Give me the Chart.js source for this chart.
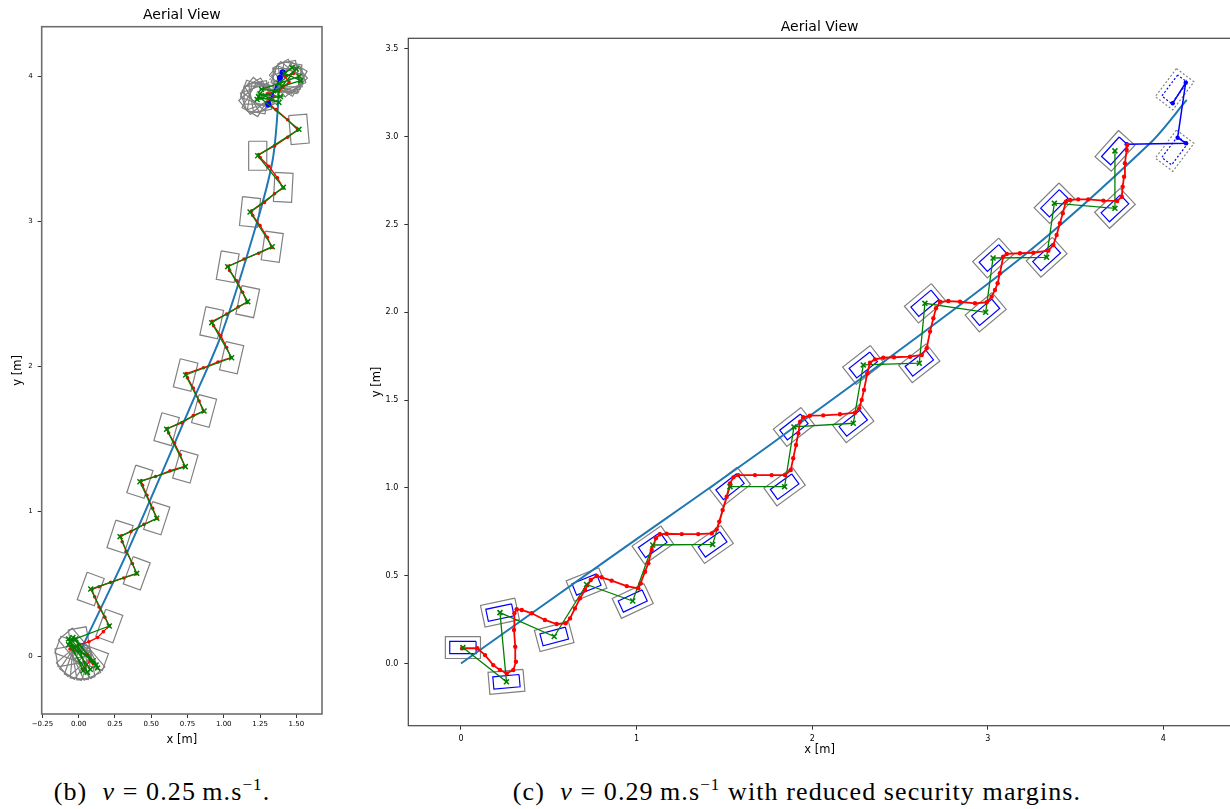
<!DOCTYPE html>
<html>
<head>
<meta charset="utf-8">
<script src="https://cdn.jsdelivr.net/npm/chart.js@4.4.1/dist/chart.umd.min.js"></script>
<style>
  html, body { margin: 0; padding: 0; background: #fff; width: 1230px; height: 809px; overflow: hidden; }
  #wrap-b { position: absolute; left: 0; top: 0; }
  #wrap-c { position: absolute; left: 360px; top: 0; }
  .cap { position: absolute; font-family: 'Liberation Serif', serif; font-size: 26px; letter-spacing: 1.1px; line-height: 1; color: #000; white-space: nowrap; transform: translateX(-50%); }
  .cap sup { font-size: 17px; vertical-align: 10px; line-height: 0; }
</style>
</head>
<body>
<div id="wrap-b"><canvas id="chart-b" width="340" height="760"></canvas></div>
<div id="wrap-c"><canvas id="chart-c" width="880" height="770"></canvas></div>
<div class="cap" style="left:162px; top:779px;">(b)&nbsp; <i>v</i> = 0.25&thinsp;m.s<sup>−1</sup>.</div>
<div class="cap" style="left:797px; top:779px;">(c)&nbsp; <i>v</i> = 0.29&thinsp;m.s<sup>−1</sup> with reduced security margins.</div>

<script>
/* ─── (b) v = 0.25 m/s ─── */

// reference path (blue)
const bRefX = [0.021, 0.331, 0.790, 0.988, 1.227, 1.337, 1.376, 1.371];
const bRefY = [0.057, 0.710, 1.768, 2.230, 2.986, 3.423, 3.837, 3.940];

// waypoints (green x) and robot heading in degrees
const bWpX = [0.211, 0.083, 0.400, 0.285, 0.538, 0.422, 0.735, 0.606, 0.864, 0.737, 1.054, 0.917, 1.165, 1.027, 1.334, 1.181, 1.410, 1.234, 1.518];
const bWpY = [0.209, 0.464, 0.572, 0.825, 0.952, 1.204, 1.308, 1.566, 1.692, 1.940, 2.059, 2.301, 2.446, 2.687, 2.825, 3.064, 3.234, 3.452, 3.634];
const bWpHeading = [70, 70, 70, 72, 72, 72, 74, 74, 75, 76, 77, 78, 78, 80, 82, 84, 87, 90, 95];

// turning on the spot at start and end
const bStartFan = [[0.03, -0.10], [-0.07, 0.12], [0.08, -0.09], [-0.06, 0.10], [0.12, -0.06], [-0.04, 0.13],
  [0.10, -0.03], [-0.07, 0.08], [0.06, -0.11], [-0.02, 0.12], [0.13, -0.08], [-0.05, 0.11]];
const bEndFan = [[1.24, 3.86], [1.38, 3.82], [1.25, 3.88], [1.39, 3.86], [1.23, 3.84], [1.37, 3.90], [1.26, 3.91],
  [1.52, 4.00], [1.38, 3.95], [1.50, 4.05], [1.40, 3.93], [1.53, 3.97], [1.42, 4.02], [1.47, 4.06]];

// box poses while turning: [x, y, heading]
const bStartBoxes = [[0.007, 0.094, 100], [-0.028, 0.077, 130], [-0.050, 0.046, 160], [-0.054, 0.007, 10],
  [-0.037, -0.028, 40], [-0.023, -0.041, 55], [-0.006, -0.051, 70], [0.013, -0.055, 85], [0.033, -0.054, 100],
  [0.052, -0.048, 115], [0.068, -0.037, 130], [0.090, -0.006, 160]];
const bEndBoxes = [[1.24, 3.87, 0], [1.23, 3.86, 20], [1.22, 3.85, 40], [1.23, 3.84, 60], [1.24, 3.85, 80],
  [1.25, 3.86, 100], [1.25, 3.87, 120], [1.24, 3.88, 140], [1.23, 3.88, 160],
  [1.44, 3.99, 0], [1.45, 3.98, 20], [1.46, 3.97, 40], [1.47, 3.98, 60], [1.46, 3.99, 80],
  [1.45, 4.00, 100], [1.44, 4.00, 120], [1.43, 3.99, 140], [1.44, 3.98, 160]];
const bGhostBoxes = [[1.36, 3.92, 65]];

// executed trajectory (red)
const bRedPath = [
  [0.03, -0.09], [0.08, -0.03], [0.10, -0.05], [0.06, 0.01], [-0.06, 0.05], [0.00, 0.08], [0.07, 0.10], [0.13, 0.13], [0.17, 0.17], [0.21, 0.21],
  [0.18, 0.27], [0.14, 0.34], [0.11, 0.41], [0.09, 0.46], [0.14, 0.48], [0.22, 0.51], [0.31, 0.54], [0.40, 0.57],
  [0.37, 0.64], [0.33, 0.72], [0.30, 0.79], [0.29, 0.83], [0.36, 0.86], [0.45, 0.91], [0.54, 0.95],
  [0.51, 1.02], [0.47, 1.11], [0.44, 1.18], [0.43, 1.21], [0.53, 1.24], [0.63, 1.28], [0.73, 1.31],
  [0.70, 1.39], [0.66, 1.47], [0.62, 1.54], [0.61, 1.57], [0.71, 1.61], [0.79, 1.66], [0.86, 1.69],
  [0.83, 1.76], [0.79, 1.85], [0.75, 1.92], [0.74, 1.95], [0.86, 1.99], [0.96, 2.03], [1.05, 2.06],
  [1.02, 2.13], [0.98, 2.21], [0.93, 2.28], [0.92, 2.31], [1.02, 2.36], [1.10, 2.41], [1.16, 2.44],
  [1.13, 2.51], [1.09, 2.59], [1.04, 2.66], [1.03, 2.69], [1.14, 2.74], [1.24, 2.78], [1.33, 2.82],
  [1.30, 2.89], [1.25, 2.97], [1.20, 3.04], [1.19, 3.07], [1.28, 3.13], [1.35, 3.19], [1.41, 3.23],
  [1.37, 3.30], [1.31, 3.38], [1.25, 3.44], [1.24, 3.46], [1.35, 3.52], [1.44, 3.58], [1.51, 3.63],
  [1.44, 3.70], [1.36, 3.77], [1.30, 3.82], [1.34, 3.86], [1.30, 3.88], [1.38, 3.90], [1.45, 3.96], [1.42, 4.00], [1.48, 4.02]
];

// planned end motion (blue)
const bPlan = [[1.307, 3.807], [1.387, 3.990], [1.406, 4.028]];

const bXTicks = [-0.25, 0, 0.25, 0.5, 0.75, 1.0, 1.25, 1.5];
const bXTickLabels = ['−0.25', '0.00', '0.25', '0.50', '0.75', '1.00', '1.25', '1.50'];
const bYTicks = [0, 1, 2, 3, 4];
const bYTickLabels = ['0', '1', '2', '3', '4'];

/* ─── (c) v = 0.29 m/s, reduced margins ─── */

const cRefX = [0, 0.830, 1.798, 3.174, 3.924, 4.133];
const cRefY = [0, 0.589, 1.273, 2.298, 2.962, 3.209];

const cWpX = [0.011, 0.259, 0.222, 0.531, 0.715, 0.978, 1.092, 1.433, 1.532, 1.843, 1.896, 2.234, 2.291, 2.610, 2.642, 2.988, 3.030, 3.335, 3.379, 3.724, 3.724];
const cWpY = [0.091, -0.104, 0.290, 0.154, 0.450, 0.356, 0.675, 0.678, 1.007, 1.007, 1.347, 1.368, 1.700, 1.710, 2.051, 2.000, 2.309, 2.313, 2.621, 2.592, 2.919];
const cWpHeading = [0, 5, 12, 15, 22, 25, 35, 35, 38, 36, 38, 38, 38, 38, 40, 40, 42, 42, 45, 43, 48];

const cRedPath = [
  [0.007, 0.087], [0.093, 0.087], [0.137, 0.048], [0.184, -0.009], [0.222, -0.037], [0.260, -0.056], [0.298, -0.037], [0.313, 0.010],
  [0.309, 0.096], [0.302, 0.191], [0.304, 0.286], [0.317, 0.309], [0.346, 0.305], [0.403, 0.286], [0.478, 0.248], [0.545, 0.225],
  [0.596, 0.229], [0.621, 0.257], [0.649, 0.314], [0.678, 0.371], [0.706, 0.419], [0.739, 0.476], [0.773, 0.498], [0.801, 0.491],
  [0.858, 0.472], [0.944, 0.441], [1.010, 0.428], [1.023, 0.457], [1.048, 0.523], [1.067, 0.571], [1.086, 0.646], [1.110, 0.713],
  [1.133, 0.736], [1.171, 0.739], [1.257, 0.737], [1.351, 0.737], [1.428, 0.741], [1.456, 0.764], [1.471, 0.808], [1.490, 0.874],
  [1.513, 0.950], [1.532, 1.026], [1.551, 1.060], [1.579, 1.073], [1.674, 1.073], [1.769, 1.073], [1.845, 1.073], [1.878, 1.102],
  [1.892, 1.169], [1.908, 1.244], [1.921, 1.311], [1.931, 1.377], [1.949, 1.402], [1.987, 1.411], [2.063, 1.413], [2.158, 1.419],
  [2.244, 1.428], [2.268, 1.453], [2.282, 1.501], [2.295, 1.558], [2.314, 1.653], [2.329, 1.713], [2.358, 1.732], [2.405, 1.741],
  [2.466, 1.744], [2.557, 1.747], [2.624, 1.757], [2.652, 1.795], [2.671, 1.890], [2.690, 1.966], [2.705, 2.023], [2.728, 2.060],
  [2.775, 2.064], [2.842, 2.060], [2.927, 2.051], [2.994, 2.057], [3.022, 2.089], [3.041, 2.127], [3.056, 2.165], [3.069, 2.222],
  [3.088, 2.317], [3.108, 2.332], [3.183, 2.336], [3.259, 2.339], [3.345, 2.351], [3.373, 2.383], [3.392, 2.440], [3.411, 2.507],
  [3.427, 2.564], [3.445, 2.630], [3.468, 2.640], [3.515, 2.643], [3.572, 2.643], [3.658, 2.636], [3.737, 2.634], [3.763, 2.658],
  [3.768, 2.715], [3.776, 2.772], [3.781, 2.849], [3.791, 2.924], [3.794, 2.953]
];

const cPlan = [[3.791, 2.957], [4.129, 2.962], [4.081, 2.994], [4.127, 3.307], [4.053, 3.190]];
const cGhostBoxes = [[4.064, 2.920, 53], [4.064, 3.270, 53]];

const cXTicks = [0, 1, 2, 3, 4];
const cXTickLabels = ['0', '1', '2', '3', '4'];
const cYTicks = [0, 0.5, 1.0, 1.5, 2.0, 2.5, 3.0, 3.5];
const cYTickLabels = ['0.0', '0.5', '1.0', '1.5', '2.0', '2.5', '3.0', '3.5'];

/* ─── helpers ─── */

// robot footprint: outer security box and inner body (metres)
const OUTER = { len: 0.2, wid: 0.125 };
const INNER = { len: 0.15, wid: 0.07 };

Chart.defaults.font.family = "'DejaVu Sans', sans-serif";
Chart.defaults.color = '#000';

function boxPoints(cx, cy, deg, size) {
  const a = deg * Math.PI / 180, c = Math.cos(a), s = Math.sin(a);
  const hl = size.len / 2, hw = size.wid / 2;
  return [[hl, hw], [-hl, hw], [-hl, -hw], [hl, -hw], [hl, hw]]
    .map(([dx, dy]) => ({ x: cx + dx * c - dy * s, y: cy + dx * s + dy * c }));
}

function boxDataset(cx, cy, deg, size, color, dash, order) {
  return {
    data: boxPoints(cx, cy, deg, size), showLine: true, borderColor: color, borderWidth: 1.2,
    borderDash: dash || [], pointRadius: 0, order
  };
}

const toXY = pts => pts.map(([x, y]) => ({ x, y }));
const zipXY = (xs, ys) => xs.map((x, i) => ({ x, y: ys[i] }));

const framePlugin = {
  id: 'frame',
  afterDatasetsDraw(chart, args, opts) {
    const { ctx, chartArea: a } = chart;
    ctx.save();
    ctx.strokeStyle = opts.color;
    ctx.lineWidth = opts.width;
    ctx.strokeRect(a.left, a.top, a.right - a.left, a.bottom - a.top);
    ctx.restore();
  }
};

function axis(cfg) {
  return {
    type: 'linear', min: cfg.min, max: cfg.max,
    afterFit: s => { if (cfg.width) s.width = cfg.width; if (cfg.height) s.height = cfg.height; },
    afterBuildTicks: s => { s.ticks = cfg.ticks.map(v => ({ value: v })); },
    ticks: {
      autoSkip: false, maxRotation: 0, padding: cfg.tickPad, color: '#000',
      font: { size: cfg.tickSize }, callback: (v, i) => cfg.labels[i]
    },
    grid: { drawOnChartArea: false, drawTicks: true, tickLength: 4, color: '#333', tickWidth: 1 },
    border: { display: false },
    title: { display: true, text: cfg.title, color: '#000', font: { size: 11.5 }, padding: cfg.titlePad }
  };
}

function baseOptions(o) {
  return {
    responsive: false, animation: false, devicePixelRatio: 1,
    layout: { padding: o.padding },
    plugins: {
      legend: { display: false }, tooltip: { enabled: false },
      title: { display: true, text: 'Aerial View', fullSize: false, color: '#000', font: { size: 14, weight: 'normal' }, padding: o.titlePad },
      frame: o.frame
    },
    scales: { x: axis(o.x), y: axis(o.y) }
  };
}

/* ─── chart (b) ─── */

function renderChartB() {
  const ds = [];
  const wps = zipXY(bWpX, bWpY);
  const green = toXY(bStartFan).concat(wps, toXY(bEndFan));

  ds.push({ data: green, showLine: false, pointStyle: 'crossRot', pointRadius: 3.5, borderColor: '#008000', borderWidth: 1.5, order: 0 });
  ds.push({ data: green, showLine: true, borderColor: '#008000', borderWidth: 1.3, pointRadius: 0, order: 1 });
  ds.push({ data: toXY(bPlan), showLine: true, borderColor: '#0000ff', backgroundColor: '#0000ff', borderWidth: 1.8, pointRadius: 2.2, order: 1 });
  ds.push({ data: toXY(bRedPath), showLine: true, borderColor: '#ff0000', backgroundColor: '#ff0000', borderWidth: 1.3, pointRadius: 1.8, pointBorderWidth: 0, order: 2 });
  ds.push({ data: zipXY(bRefX, bRefY), showLine: true, tension: 0.3, borderColor: '#1f77b4', borderWidth: 2, pointRadius: 0, order: 3 });

  bWpX.forEach((x, i) => ds.push(boxDataset(x, bWpY[i], bWpHeading[i], OUTER, '#808080', null, 5)));
  bStartBoxes.concat(bEndBoxes).forEach(([x, y, h]) => ds.push(boxDataset(x, y, h, OUTER, '#808080', null, 5)));
  bGhostBoxes.forEach(([x, y, h]) => ds.push(boxDataset(x, y, h, OUTER, '#808080', [2, 2], 5)));

  new Chart(document.getElementById('chart-b'), {
    type: 'scatter',
    data: { datasets: ds },
    options: baseOptions({
      padding: { left: 0, right: 18, top: 0, bottom: 12 },
      titlePad: { top: 6.6, bottom: 3.3 },
      frame: { color: '#6e6e6e', width: 1.6 },
      x: { min: -0.255, max: 1.677, ticks: bXTicks, labels: bXTickLabels, tickSize: 7, tickPad: 2, height: 34, title: 'x [m]', titlePad: { top: 0, bottom: 1 } },
      y: { min: -0.398, max: 4.342, ticks: bYTicks, labels: bYTickLabels, tickSize: 7, tickPad: 5, width: 41.7, title: 'y [m]', titlePad: { top: 11, bottom: 0 } }
    }),
    plugins: [framePlugin]
  });
}

/* ─── chart (c) ─── */

function renderChartC() {
  const ds = [];
  const wps = zipXY(cWpX, cWpY);

  ds.push({ data: wps, showLine: false, pointStyle: 'crossRot', pointRadius: 3.5, borderColor: '#008000', borderWidth: 1.6, order: 0 });
  ds.push({ data: toXY(cRedPath), showLine: true, borderColor: '#ff0000', backgroundColor: '#ff0000', borderWidth: 1.8, pointRadius: 2.2, pointBorderWidth: 0, order: 1 });
  ds.push({ data: toXY(cPlan), showLine: true, borderColor: '#0000ff', backgroundColor: '#0000ff', borderWidth: 1.5, pointRadius: 2.2, pointBorderWidth: 0, order: 1 });
  ds.push({ data: wps, showLine: true, borderColor: '#008000', borderWidth: 1.3, pointRadius: 0, order: 2 });
  ds.push({ data: zipXY(cRefX, cRefY), showLine: true, tension: 0.3, borderColor: '#1f77b4', borderWidth: 2, pointRadius: 0, order: 3 });

  cWpX.forEach((x, i) => {
    ds.push(boxDataset(x, cWpY[i], cWpHeading[i], INNER, '#0000ff', null, 4));
    ds.push(boxDataset(x, cWpY[i], cWpHeading[i], OUTER, '#808080', null, 5));
  });
  cGhostBoxes.forEach(([x, y, h]) => {
    ds.push(boxDataset(x, y, h, INNER, '#0000ff', [2, 2], 4));
    ds.push(boxDataset(x, y, h, OUTER, '#808080', [2, 2], 5));
  });

  new Chart(document.getElementById('chart-c'), {
    type: 'scatter',
    data: { datasets: ds },
    options: baseOptions({
      padding: { left: 0, right: 9, top: 0, bottom: 12.3 },
      titlePad: { top: 18.6, bottom: 2.9 },
      frame: { color: '#444', width: 1.2 },
      x: { min: -0.30, max: 4.385, ticks: cXTicks, labels: cXTickLabels, tickSize: 8, tickPad: 4, height: 32, title: 'x [m]', titlePad: { top: 0, bottom: 1 } },
      y: { min: -0.354, max: 3.560, ticks: cYTicks, labels: cYTickLabels, tickSize: 8, tickPad: 6, width: 48.3, title: 'y [m]', titlePad: { top: 10, bottom: 0 } }
    }),
    plugins: [framePlugin]
  });
}

renderChartB();
renderChartC();
</script>
</body>
</html>
